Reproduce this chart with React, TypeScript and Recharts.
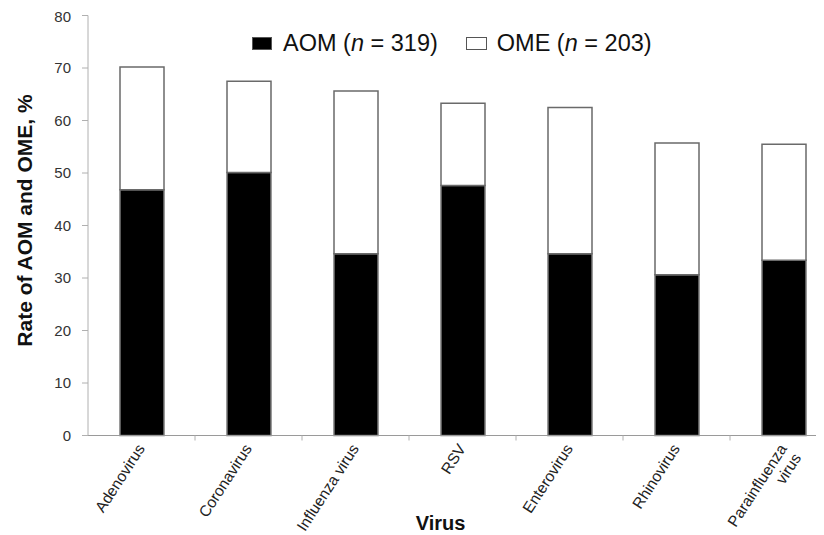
import React from "react";
import { BarChart, Bar, XAxis, YAxis, Legend } from "recharts";

const viruses = ["Adenovirus", "Coronavirus", "Influenza virus", "RSV", "Enterovirus", "Rhinovirus", "Parainfluenza virus"];
const aomRates = [46.8, 50.1, 34.6, 47.6, 34.6, 30.6, 33.4];
const omeRates = [23.4, 17.4, 31.0, 15.7, 27.9, 25.1, 22.1];
const seriesNames = ["AOM", "OME"];
const seriesCounts = [319, 203];
const yTicks = [0, 10, 20, 30, 40, 50, 60, 70, 80];

const data = viruses.map((v, i) => ({ virus: v, aom: aomRates[i], ome: omeRates[i] }));

const FONT = '"Liberation Sans", Arial, Helvetica, sans-serif';

function VirusTick({ x, y, payload }: any) {
    const label: string = payload.value;
    const lines = label === "Parainfluenza virus" ? ["Parainfluenza", "virus"] : [label];
    const half = payload.offset;
    return (
        <g>
            {half ? (
                <line x1={x + half} x2={x + half} y1={y - 8} y2={y - 3} stroke="#b0b0b0" />
            ) : null}
            <g transform={`translate(${x + 4},${y + 5})`}>
                <text transform="rotate(-57)" textAnchor="end" fontSize={15.5} fill="#222" fontFamily={FONT}>
                    {lines.map((l, i) => (
                        <tspan key={i} x={0} dy={i === 0 ? 0 : 17}>{l}</tspan>
                    ))}
                </text>
            </g>
        </g>
    );
}

function LegendBox() {
    return (
        <div style={{ display: "flex", alignItems: "center", fontSize: 23.5, fontFamily: FONT, color: "#111", whiteSpace: "nowrap" }}>
            {seriesNames.map((name, i) => (
                <span key={name} style={{ display: "flex", alignItems: "center", marginLeft: i === 0 ? 0 : 28 }}>
                    <span style={{
                        display: "inline-block", width: i === 0 ? 18 : 19, height: 11, marginRight: i === 0 ? 11 : 10,
                        background: i === 0 ? "#000" : "#fff", border: "1px solid #555",
                    }} />
                    {name} (<i>n</i>&nbsp;=&nbsp;{seriesCounts[i]})
                </span>
            ))}
        </div>
    );
}

const yLabel = (props: any) => {
    const { viewBox } = props;
    const cx = viewBox.x + 16;
    const cy = viewBox.y + viewBox.height / 2 - 5;
    return (
        <text x={cx} y={cy} transform={`rotate(-90, ${cx}, ${cy})`} textAnchor="middle" dominantBaseline="central"
            fontSize={21} fontWeight="bold" fill="#111" fontFamily={FONT}>
            Rate of AOM and OME, %
        </text>
    );
};

const xLabel = (props: any) => {
    const { viewBox } = props;
    const cx = viewBox.x + viewBox.width / 2 - 22;
    return (
        <text x={cx} y={522} textAnchor="middle" fontSize={20} fontWeight="bold" fill="#111" fontFamily={FONT}>
            Virus
        </text>
    );
};

export default function App() {
    return (
        <div style={{ width: 816, height: 527, overflow: "hidden", background: "#fff" }}>
            <BarChart width={860} height={527} data={data} margin={{ top: 7.5, right: 31, left: 0, bottom: 0 }} barSize={44}>
                <XAxis dataKey="virus" interval={0} height={99.5} tickLine={false}
                    axisLine={{ stroke: "#9a9a9a" }} tick={<VirusTick />} label={xLabel} />
                <YAxis domain={[0, 80]} ticks={yTicks} width={80} tickSize={6} tickMargin={11}
                    axisLine={{ stroke: "#b0b0b0" }} tickLine={{ stroke: "#b0b0b0" }}
                    tick={{ fontSize: 15, fill: "#333", fontFamily: FONT }} label={yLabel} />
                <Legend verticalAlign="middle" align="center" content={<LegendBox />}
                    wrapperStyle={{ top: 22, left: 244, width: "auto" }} />
                <Bar dataKey="aom" stackId="a" fill="#000" stroke="#7a7a7a" strokeWidth={1.5} isAnimationActive={false} />
                <Bar dataKey="ome" stackId="a" fill="#fff" stroke="#6a6a6a" strokeWidth={1.5} isAnimationActive={false} />
            </BarChart>
        </div>
    );
}
